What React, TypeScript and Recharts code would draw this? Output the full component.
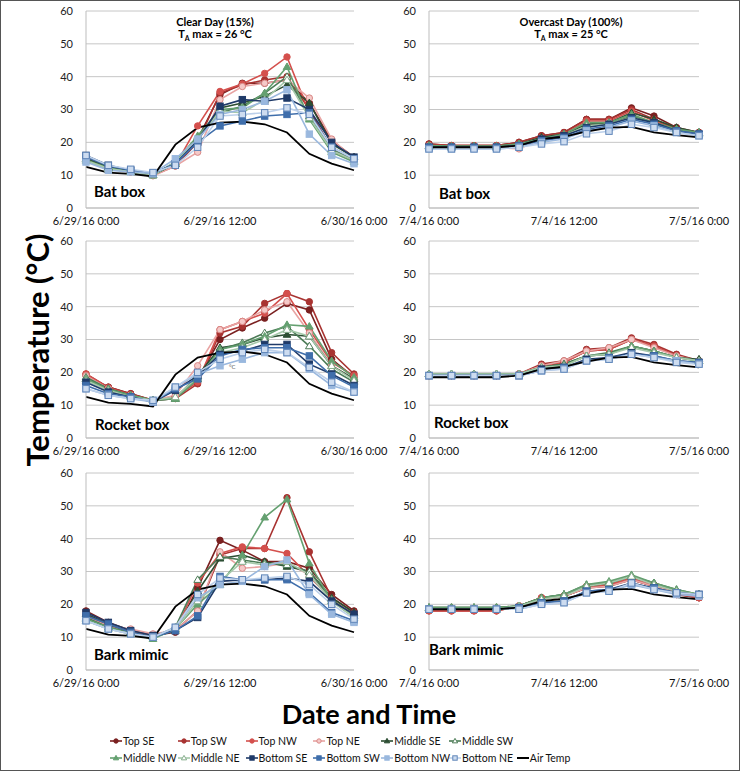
import React from 'react';
import { LineChart, Line, XAxis, YAxis, CartesianGrid } from 'recharts';

const hours = [0, 2, 4, 6, 8, 10, 12, 14, 16, 18, 20, 22, 24];
const xTicks = [0, 12, 24];
const yTicks = [0, 10, 20, 30, 40, 50, 60];
const clearDayTicks = ['6/29/16 0:00', '6/29/16 12:00', '6/30/16 0:00'];
const overcastDayTicks = ['7/4/16 0:00', '7/4/16 12:00', '7/5/16 0:00'];

const seriesNames = [
  'Top SE', 'Top SW', 'Top NW', 'Top NE',
  'Middle SE', 'Middle SW', 'Middle NW', 'Middle NE',
  'Bottom SE', 'Bottom SW', 'Bottom NW', 'Bottom NE',
];

// air temperature, clear day (6/29) and overcast day (7/4)
const clearAir = [12.5, 10.8, 10.4, 9.6, 19.3, 24.5, 26, 26.3, 25.5, 23, 16.5, 13.5, 11.5];
const overcastAir = [18.5, 18.5, 18.5, 18.5, 19, 21, 21.7, 23.3, 24.5, 24.7, 23, 22.2, 21.5];

// one row per sensor, same order as seriesNames
const clearBat = [
  [15.5, 12.5, 11.2, 10.2, 13, 21, 34.5, 38, 38, 39, 32, 20.5, 15.5],
  [15, 12.2, 11, 10, 12.8, 20, 35, 37.5, 39, 40, 30, 18, 14.5],
  [14.8, 12, 11, 10, 13, 25, 35.5, 37.8, 41, 46, 29, 17.5, 14.5],
  [14.5, 12, 11, 9.8, 12.8, 17, 33, 37, 38, 39, 33.5, 21, 15],
  [15, 12.5, 11.2, 10.2, 13.5, 21, 30.5, 32, 34, 37.5, 32, 19.5, 15.5],
  [14.8, 12.2, 11, 10, 13.5, 21.5, 29, 31, 35, 40, 28, 18, 14.5],
  [14.5, 12, 11, 10, 14, 22, 30, 30.5, 35, 43, 27, 17, 14],
  [14.5, 12, 11, 10, 14, 21, 29.5, 29, 33, 39, 27.5, 17.5, 14.5],
  [16, 13, 11.5, 10.5, 13.5, 20.5, 31, 33, 32.5, 33.5, 30, 20, 15.5],
  [15.5, 12.8, 11.5, 10.5, 13.5, 20, 25, 26.5, 28, 28.5, 29, 18.5, 15],
  [14, 11.5, 11, 10.5, 15, 21, 28.5, 30, 32.5, 36, 22.5, 16, 13.5],
  [16, 13, 11.8, 10.8, 13, 18.5, 28, 28.5, 29, 30.5, 28.5, 18.5, 15],
];

const clearRocket = [
  [19, 15.5, 13.5, 11.5, 12.5, 18, 30, 33.5, 36.5, 41, 39, 24, 18.5],
  [19.5, 15.5, 13.5, 11.5, 12, 16.5, 32, 34, 41, 44, 41.5, 26, 19.5],
  [19.5, 15.3, 13.2, 11.5, 12.5, 17, 33, 35.5, 38, 44, 33, 23, 19],
  [19, 15, 13, 11.5, 13, 22, 33, 35.5, 39, 41.5, 32, 22, 18],
  [18, 15, 13, 11.5, 12, 19, 27.5, 28.5, 30.5, 31.5, 31, 22, 18],
  [18.5, 15, 13, 11.5, 12, 18, 27, 29, 32, 34, 28, 21, 17],
  [18, 14.8, 13, 11.5, 12, 18, 27, 28.5, 31, 34.5, 34, 23.5, 18.5],
  [17.5, 14.5, 12.5, 11.5, 12.5, 18.5, 26, 27.5, 30, 33, 31, 22, 17.5],
  [17, 14, 12.5, 11, 14.5, 19, 25.5, 26.5, 28.5, 28.5, 22.5, 19.5, 16],
  [16, 13.5, 12.5, 11, 15, 18, 25, 27, 27.5, 27.5, 25, 19, 15.5],
  [15, 13, 12, 11, 15.5, 19.5, 22, 24, 26, 26, 21, 16, 14],
  [15, 13, 12, 11.5, 15.5, 20, 24, 26, 27, 26, 21.5, 17, 14],
];

const clearBark = [
  [18, 14.5, 12, 10.5, 11.5, 25, 39.5, 36.5, 33, 33, 31, 23, 18],
  [17, 14, 12, 10.5, 12, 18, 35, 37, 37, 52.5, 36, 22, 17.5],
  [16.5, 13.5, 12, 10.5, 12, 26.5, 35.5, 37.5, 37, 35.5, 28.5, 21.5, 17],
  [16, 13.5, 12.5, 11, 12, 18, 36, 31, 31.5, 32.5, 29, 21.5, 17],
  [17, 14, 11.5, 10, 12, 24, 34, 35, 33, 31.5, 30, 22, 17.5],
  [16, 13, 11.5, 10, 13, 27.5, 34.5, 33.5, 32.5, 32, 30, 21.5, 16.5],
  [15.5, 13, 11, 9.5, 12.5, 20, 26, 35, 46.5, 52, 32.5, 21, 16],
  [15, 12.5, 11, 10, 12.5, 21, 27, 33, 32, 33, 29, 21, 16],
  [17.5, 14.5, 12, 10.5, 12, 16, 27, 27.5, 27.5, 28, 27, 21, 17],
  [16.5, 14, 11.5, 10, 12, 16.5, 28.5, 27.5, 27.5, 27.5, 23.5, 17.5, 15],
  [15, 12.5, 11, 10, 13, 22, 26, 27, 31.5, 33.5, 23, 17, 14.5],
  [15, 12.5, 11, 10, 13, 23, 28, 27.5, 28, 28.5, 26, 20, 15.5],
];

const overcastBat = [
  [19.5, 19, 19, 19, 20, 22, 23, 27, 27, 30.5, 28, 24.5, 23],
  [19.5, 19, 19, 19, 20, 22, 23, 27, 27, 30, 27, 24, 23],
  [19, 19, 19, 19, 19.5, 21.5, 22.5, 26.5, 26.5, 29.5, 26.5, 24, 22.5],
  [19, 18.5, 18.5, 18.5, 18, 21, 22, 25.5, 26, 28.5, 26, 23.5, 22.5],
  [19, 18.8, 18.8, 18.8, 19.5, 21.5, 22.5, 25.5, 26, 29, 27, 24.5, 23],
  [19, 18.8, 18.8, 18.8, 19.5, 21, 22, 25, 25.5, 28, 26, 24, 23],
  [19, 18.8, 18.8, 18.8, 19.5, 21, 22.5, 26, 26, 28.5, 26, 24, 23],
  [18.5, 18.5, 18.5, 18.5, 19, 21, 22, 25, 25.5, 27.5, 25.5, 23.5, 22.5],
  [18.5, 18.5, 18.5, 18.5, 19, 21, 22, 24.5, 25.5, 27.5, 26, 23.5, 22.5],
  [18.5, 18.5, 18.5, 18.5, 19, 20.5, 21.5, 24, 25, 27, 25.5, 23.5, 22.5],
  [18, 18, 18, 18, 18.5, 20, 21, 23.5, 24.5, 26.5, 25, 23, 22],
  [18, 18, 18, 18, 18.5, 19.5, 20.2, 22.6, 23.4, 25.5, 24.5, 23, 22],
];

const overcastRocket = [
  [19, 19, 19, 19, 19.5, 22, 23, 26.5, 27, 30, 28, 25, 23.5],
  [19, 19, 19, 19, 19.5, 22.5, 23.5, 27, 27.5, 30.5, 28.5, 25.5, 23.5],
  [19, 19, 19, 19, 19.5, 22, 23, 26.5, 27, 30, 28, 25, 23.5],
  [19, 19, 19, 19, 19.5, 22, 23.5, 26.5, 27.5, 30, 27.5, 25, 23.5],
  [19.5, 19.5, 19.5, 19.5, 19.5, 21.5, 22.5, 25, 25.5, 28, 26.5, 24.5, 24],
  [19.5, 19.5, 19.5, 19.5, 19.5, 21.5, 22.5, 25, 26, 28, 26.5, 24.5, 23.5],
  [19.5, 19.5, 19.5, 19.5, 19.5, 21.5, 22, 25, 25.5, 28, 26.5, 24.5, 23.5],
  [19.5, 19.5, 19.5, 19.5, 19.5, 21.5, 22, 25, 25.5, 27.5, 26, 24.5, 23.5],
  [19, 19, 19, 19, 19, 21, 21.5, 24, 24.5, 26, 25, 23.5, 23],
  [19, 19, 19, 19, 19, 20.5, 21.5, 23.5, 24.5, 25.5, 25, 23.5, 23],
  [19, 19, 19, 19, 19, 20.5, 21, 23.5, 24, 25.5, 24.5, 23.5, 22.5],
  [19, 19, 19, 19, 19, 20.5, 21, 23.5, 24, 25.5, 24.5, 23, 22.5],
];

const overcastBark = [
  [18.5, 18.5, 18.5, 18.5, 19.5, 21.5, 22.5, 25, 25.5, 27.5, 25.5, 23, 22],
  [18, 18, 18, 18, 19.5, 22, 22.5, 25, 26, 27.5, 25.5, 23, 22],
  [18, 18, 18, 18, 19.5, 22, 22.5, 25.5, 26, 28, 26, 23.5, 22],
  [18.5, 18.5, 18.5, 18.5, 19.5, 21.5, 22.5, 25, 25.5, 27.5, 25.5, 23.5, 22.5],
  [19, 19, 19, 19, 19.5, 22, 23, 25.5, 26.5, 28.5, 26.5, 24, 23],
  [19, 19, 19, 19, 19.5, 22, 23, 26, 26.5, 28.5, 26.5, 24.5, 23],
  [19, 19, 19, 19, 19.5, 22, 23, 26, 27, 29, 26.5, 24.5, 23],
  [18.5, 18.5, 18.5, 18.5, 19.5, 21.5, 22.5, 25.5, 26.5, 28.5, 26, 24, 23],
  [18.5, 18.5, 18.5, 18.5, 19, 20.5, 21, 24, 24.5, 26.5, 25, 23.5, 23],
  [18.5, 18.5, 18.5, 18.5, 19, 20.5, 21, 24, 24.5, 26, 25, 23.5, 23],
  [18.5, 18.5, 18.5, 18.5, 18.5, 20, 20.5, 23.5, 24, 26, 24.5, 23, 22.5],
  [18.5, 18.5, 18.5, 18.5, 18.5, 20, 20.5, 23.5, 24, 26.5, 24.5, 23.5, 23],
];

type Shape = 'circle' | 'triangle' | 'square';
interface SeriesStyle { color: string; shape: Shape; fill: string; stroke: string }

const seriesStyles: SeriesStyle[] = [
  { color: '#7a2020', shape: 'circle', fill: '#7a2020', stroke: '#7a2020' },
  { color: '#a83331', shape: 'circle', fill: '#a83331', stroke: '#a83331' },
  { color: '#d4504d', shape: 'circle', fill: '#d4504d', stroke: '#d4504d' },
  { color: '#e8a4a3', shape: 'circle', fill: '#f5c9c8', stroke: '#d98886' },
  { color: '#2d4e33', shape: 'triangle', fill: '#2d4e33', stroke: '#2d4e33' },
  { color: '#4b7b56', shape: 'triangle', fill: '#ffffff', stroke: '#4b7b56' },
  { color: '#64a070', shape: 'triangle', fill: '#64a070', stroke: '#64a070' },
  { color: '#a6c9ab', shape: 'triangle', fill: '#ffffff', stroke: '#86ad8c' },
  { color: '#1f3a68', shape: 'square', fill: '#1f3a68', stroke: '#1f3a68' },
  { color: '#3f6eab', shape: 'square', fill: '#3f6eab', stroke: '#3f6eab' },
  { color: '#9ab8de', shape: 'square', fill: '#9ab8de', stroke: '#9ab8de' },
  { color: '#bcd0ea', shape: 'square', fill: '#cddcf0', stroke: '#5f85b8' },
];

const FONT = 'Lato, "Liberation Sans", Arial, sans-serif';

function Marker({ x, y, s, size = 3.2 }: { x: number; y: number; s: SeriesStyle; size?: number }) {
  if (s.shape === 'circle') {
    return <circle cx={x} cy={y} r={size} fill={s.fill} stroke={s.stroke} strokeWidth={1} />;
  }
  if (s.shape === 'square') {
    return <rect x={x - size} y={y - size} width={size * 2} height={size * 2} fill={s.fill} stroke={s.stroke} strokeWidth={1} />;
  }
  const t = size * 1.2;
  return (
    <path d={`M${x},${y - t} L${x + t},${y + t * 0.7} L${x - t},${y + t * 0.7} Z`} fill={s.fill} stroke={s.stroke} strokeWidth={1} />
  );
}

const makeDot = (s: SeriesStyle) => (p: any) => {
  if (p.cx == null || p.cy == null) return <g key={`d-${p.index}`} />;
  return <g key={`d-${p.index}`}><Marker x={p.cx} y={p.cy} s={s} /></g>;
};

function buildRows(series: number[][], air: number[]) {
  return hours.map((h, i) => {
    const row: Record<string, number> = { h, air: air[i] };
    series.forEach((vals, j) => { row[`s${j}`] = vals[i]; });
    return row;
  });
}

function Panel({ series, air, labels, left, top, width, yWidth, mRight }: {
  series: number[][]; air: number[]; labels: string[];
  left: number; top: number; width: number; yWidth: number; mRight: number;
}) {
  const data = buildRows(series, air);
  return (
    <div style={{ position: 'absolute', left, top }}>
      <LineChart width={width} height={232} data={data} margin={{ top: 10, right: mRight, left: 0, bottom: 0 }}>
        <CartesianGrid vertical={false} stroke="#c6c6c6" />
        <XAxis
          dataKey="h" type="number" domain={[0, 24]} ticks={xTicks}
          tickFormatter={(v: number) => labels[xTicks.indexOf(v)]}
          tick={{ fill: '#111', fontSize: 11, fontFamily: FONT }}
          tickLine={false} tickSize={0} tickMargin={9} height={25}
          axisLine={{ stroke: '#bdbdbd' }} interval={0}
        />
        <YAxis
          type="number" domain={[0, 60]} ticks={yTicks} width={yWidth}
          tick={{ fill: '#222', fontSize: 11, fontFamily: FONT }}
          tickLine={false} tickSize={0} tickMargin={13}
          axisLine={{ stroke: '#bdbdbd' }}
        />
        {seriesNames.map((name, j) => (
          <Line
            key={name} name={name} dataKey={`s${j}`} stroke={seriesStyles[j].color}
            strokeWidth={1.6} dot={makeDot(seriesStyles[j])} isAnimationActive={false}
          />
        ))}
        <Line name="Air Temp" dataKey="air" stroke="#000" strokeWidth={1.8} dot={false} isAnimationActive={false} />
      </LineChart>
    </div>
  );
}

const boxLabel: React.CSSProperties = {
  position: 'absolute', fontFamily: FONT, fontWeight: 700, fontSize: 15, lineHeight: '18px', color: '#000',
};
const titleStyle: React.CSSProperties = {
  position: 'absolute', width: 200, textAlign: 'center', fontFamily: FONT, fontWeight: 700,
  fontSize: 11, lineHeight: '12px', color: '#000',
};

function Legend() {
  const items = [...seriesNames, 'Air Temp'];
  return (
    <>
      {items.map((name, i) => {
        const row = i < 6 ? 0 : 1;
        const col = i < 6 ? i : i - 6;
        const x = 109 + col * 67.8;
        const y = row === 0 ? 733 : 750;
        const s = seriesStyles[i];
        return (
          <div key={name} style={{ position: 'absolute', left: x, top: y, display: 'flex', alignItems: 'center', height: 14 }}>
            <svg width={12} height={14} style={{ display: 'block' }}>
              <line x1={0} y1={7} x2={12} y2={7} stroke={s ? s.color : '#000'} strokeWidth={s ? 1.6 : 2} />
              {s && <Marker x={6} y={7} s={s} size={2.2} />}
            </svg>
            <span style={{ fontFamily: FONT, fontSize: 10.5, color: '#111', marginLeft: 1, whiteSpace: 'nowrap' }}>{name}</span>
          </div>
        );
      })}
    </>
  );
}

export default function App() {
  const rows = [
    { top: 0, clear: clearBat, over: overcastBat, label: 'Bat box', ly: [181, 183], lx: [93, 438] },
    { top: 230, clear: clearRocket, over: overcastRocket, label: 'Rocket box', ly: [414, 412], lx: [94, 433] },
    { top: 462, clear: clearBark, over: overcastBark, label: 'Bark mimic', ly: [644, 639], lx: [93, 428] },
  ];
  return (
    <div style={{ position: 'relative', width: 738, height: 769, background: '#fff', border: '1px solid #555', overflow: 'hidden' }}>
      <style>{'body{margin:0}'}</style>
      {rows.map((r) => (
        <React.Fragment key={r.label}>
          <Panel series={r.clear} air={clearAir} labels={clearDayTicks} left={0} top={r.top} width={390} yWidth={85} mRight={37} />
          <Panel series={r.over} air={overcastAir} labels={overcastDayTicks} left={340} top={r.top} width={400} yWidth={88} mRight={42} />
          <div style={{ ...boxLabel, left: r.lx[0], top: r.ly[0] }}>{r.label}</div>
          <div style={{ ...boxLabel, left: r.lx[1], top: r.ly[1] }}>{r.label}</div>
        </React.Fragment>
      ))}
      <div style={{ ...titleStyle, left: 114, top: 15 }}>
        Clear Day (15%)<br />T<sub style={{ fontSize: 7, verticalAlign: 'sub' }}>A</sub> max = 26 °C
      </div>
      <div style={{ ...titleStyle, left: 470, top: 15 }}>
        Overcast Day (100%)<br />T<sub style={{ fontSize: 7, verticalAlign: 'sub' }}>A</sub> max = 25 °C
      </div>
      <div style={{ position: 'absolute', left: 228, top: 362, fontFamily: FONT, fontSize: 6, color: '#555' }}>°C</div>
      <div style={{
        position: 'absolute', left: 36, top: 349, transform: 'translate(-50%, -50%) rotate(-90deg)',
        fontFamily: FONT, fontWeight: 700, fontSize: 31, whiteSpace: 'nowrap', color: '#000',
      }}>
        Temperature (°C)
      </div>
      <div style={{
        position: 'absolute', left: 368, top: 712, transform: 'translate(-50%, -50%)',
        fontFamily: FONT, fontWeight: 700, fontSize: 27, whiteSpace: 'nowrap', color: '#000',
      }}>
        Date and Time
      </div>
      <Legend />
    </div>
  );
}
